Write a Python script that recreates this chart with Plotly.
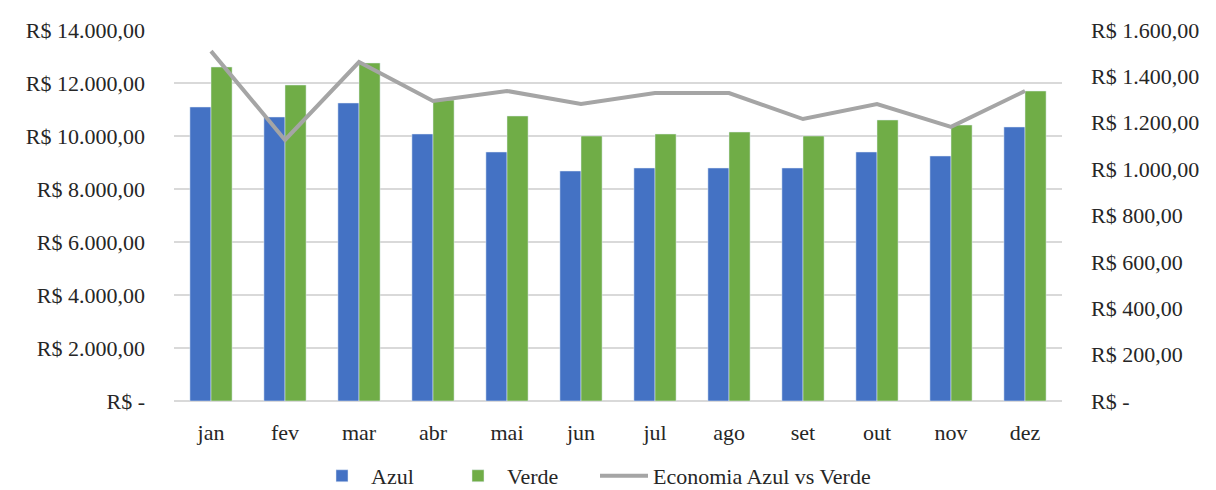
import plotly.graph_objects as go

meses = ["jan", "fev", "mar", "abr", "mai", "jun", "jul", "ago", "set", "out", "nov", "dez"]
azul = [11094, 10717, 11245, 10075, 9396, 8679, 8792, 8792, 8792, 9396, 9245, 10340]
verde = [12604, 11925, 12755, 11358, 10755, 10000, 10075, 10151, 10000, 10604, 10415, 11698]
economia = [1509, 1126, 1462, 1294, 1337, 1281, 1328, 1328, 1216, 1281, 1182, 1337]

left_vals = [0, 2000, 4000, 6000, 8000, 10000, 12000, 14000]
left_text = ["R$ -", "R$ 2.000,00", "R$ 4.000,00", "R$ 6.000,00", "R$ 8.000,00",
             "R$ 10.000,00", "R$ 12.000,00", "R$ 14.000,00"]
right_vals = [0, 200, 400, 600, 800, 1000, 1200, 1400, 1600]
right_text = ["R$ -", "R$ 200,00", "R$ 400,00", "R$ 600,00", "R$ 800,00",
              "R$ 1.000,00", "R$ 1.200,00", "R$ 1.400,00", "R$ 1.600,00"]

font = dict(family="Liberation Serif", size=22, color="#262626")

fig = go.Figure()
fig.add_trace(go.Bar(x=meses, y=azul, name="Azul", marker_color="#4472c4", legend="legend"))
fig.add_trace(go.Bar(x=meses, y=verde, name="Verde", marker_color="#70ad47", legend="legend2"))
fig.add_trace(go.Scatter(x=meses, y=economia, name="Economia Azul vs Verde", yaxis="y2",
                         mode="lines", line=dict(color="#a5a5a5", width=4), legend="legend3"))

def leg(xpix):
    return dict(orientation="h", x=(xpix - 8) / 1216, xanchor="left", xref="container",
                y=0.045, yanchor="middle", yref="container",
                font=font, itemwidth=48, bgcolor="rgba(0,0,0,0)")

fig.update_layout(
    width=1216, height=490,
    margin=dict(l=166, r=162, t=22, b=97, autoexpand=False),
    paper_bgcolor="white", plot_bgcolor="white",
    font=font,
    barmode="group", bargap=0.43, bargroupgap=0,
    showlegend=True,
    legend=leg(313),
    legend2=leg(449),
    legend3=leg(595),
    xaxis=dict(showgrid=False, showline=False, ticks="", ticklabelstandoff=16),
    yaxis=dict(range=[0, 14000], tickvals=left_vals, ticktext=left_text,
               showgrid=True, gridcolor="#d9d9d9", gridwidth=1.5, zeroline=True,
               zerolinecolor="#d9d9d9", zerolinewidth=1.5, ticks="", ticklabelstandoff=28),
    yaxis2=dict(range=[0, 1600], tickvals=right_vals, ticktext=right_text, overlaying="y",
                side="right", showgrid=False, zeroline=False, ticks="", ticklabelstandoff=28),
)

fig.write_html("out.html")
